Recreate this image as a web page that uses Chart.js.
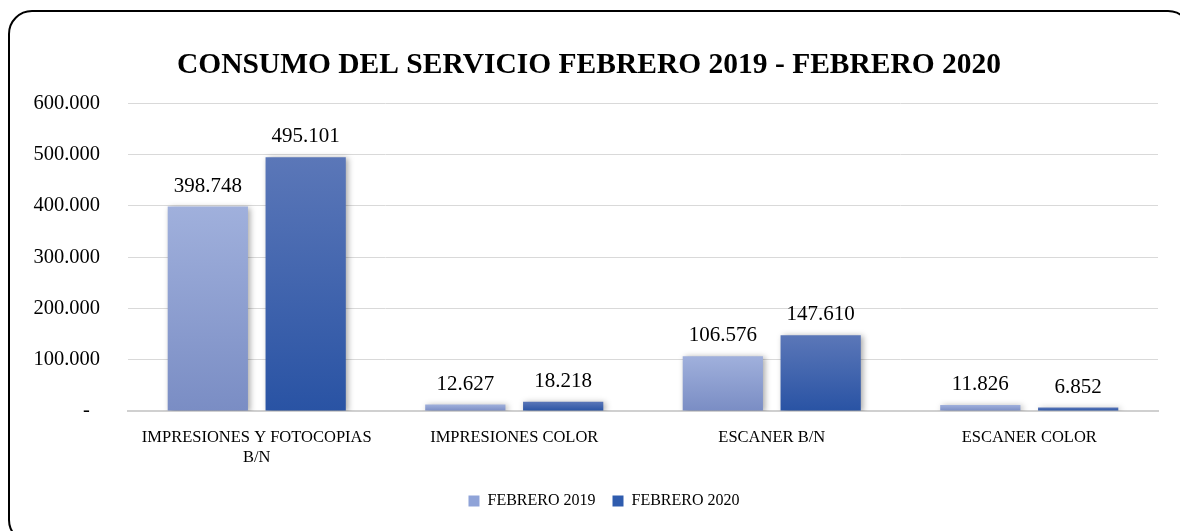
<!DOCTYPE html>
<html>
<head>
<meta charset="utf-8">
<script src="https://cdn.jsdelivr.net/npm/chart.js@4/dist/chart.umd.min.js"></script>
<style>
    html, body { margin: 0; padding: 0; background: #ffffff; overflow: hidden; }
    #frame {
        position: absolute; left: 8px; top: 10px;
        width: 1180px; height: 530px;
        border: 2px solid #000; border-radius: 24px;
    }
    #wrap { position: absolute; left: 0; top: 0; width: 1180px; height: 531px; }
</style>
</head>
<body>
<div id="frame"></div>
<div id="wrap"><canvas id="chart"></canvas></div>
<script>
// Chart data
var categories = [['IMPRESIONES Y FOTOCOPIAS', 'B/N'], 'IMPRESIONES COLOR', 'ESCANER B/N', 'ESCANER COLOR'];
var febrero2019 = [398748, 12627, 106576, 11826];
var febrero2020 = [495101, 18218, 147610, 6852];
var seriesNames = ['FEBRERO 2019', 'FEBRERO 2020'];
var yTicks = [0, 100000, 200000, 300000, 400000, 500000, 600000];

var FONT = '"Liberation Serif", "Times New Roman", serif';

// 12627 -> "12.627"
function fmt(n) {
    return String(n).replace(/\B(?=(\d{3})+(?!\d))/g, '.');
}

// vertical gradient per bar, from top of the bar to the base
function barGradient(top, bottom) {
    return function(context) {
        var chart = context.chart;
        if (!chart.chartArea || context.raw === undefined) {
            return bottom;
        }
        var y = chart.scales.y;
        var y0 = y.getPixelForValue(context.raw);
        var y1 = y.getPixelForValue(0);
        if (y1 - y0 < 1) {
            y0 = y1 - 1;
        }
        var g = chart.ctx.createLinearGradient(0, y0, 0, y1);
        g.addColorStop(0, top);
        g.addColorStop(1, bottom);
        return g;
    };
}

// soft drop shadow under the bars
var barShadow = {
    id: 'barShadow',
    beforeDatasetsDraw: function(chart) {
        var ctx = chart.ctx;
        ctx.save();
        ctx.shadowColor = 'rgba(0, 0, 0, 0.35)';
        ctx.shadowBlur = 6;
        ctx.shadowOffsetX = 2;
        ctx.shadowOffsetY = 1;
    },
    afterDatasetsDraw: function(chart) {
        chart.ctx.restore();
    }
};

// value labels above each bar
var valueLabels = {
    id: 'valueLabels',
    afterDatasetsDraw: function(chart) {
        var ctx = chart.ctx;
        ctx.save();
        ctx.font = '21px ' + FONT;
        ctx.fillStyle = '#000';
        ctx.textAlign = 'center';
        ctx.textBaseline = 'bottom';
        chart.data.datasets.forEach(function(ds, i) {
            chart.getDatasetMeta(i).data.forEach(function(bar, j) {
                ctx.fillText(fmt(ds.data[j]), bar.x, bar.y - 10);
            });
        });
        ctx.restore();
    }
};

// legend sits a little right of the canvas centre
var legendShift = {
    id: 'legendShift',
    afterLayout: function(chart) {
        if (chart.legend) {
            chart.legend.left += 15;
            chart.legend.right += 15;
        }
    }
};

var solidColors = ['#8FA3D8', '#2F5CAE'];

new Chart(document.getElementById('chart'), {
    type: 'bar',
    data: {
        labels: categories,
        datasets: [{
            label: seriesNames[0],
            data: febrero2019,
            backgroundColor: barGradient('#A0B0DC', '#7A8DC4')
        }, {
            label: seriesNames[1],
            data: febrero2020,
            backgroundColor: barGradient('#5B77B8', '#2953A4')
        }]
    },
    options: {
        responsive: true,
        maintainAspectRatio: false,
        animation: false,
        layout: {
            padding: { left: 20, right: 22, top: 48, bottom: 12 }
        },
        datasets: {
            bar: {
                categoryPercentage: 0.76,
                barPercentage: 0.82
            }
        },
        plugins: {
            title: {
                display: true,
                text: 'CONSUMO DEL SERVICIO FEBRERO 2019 - FEBRERO 2020',
                color: '#000',
                font: { family: FONT, size: 29.5, weight: 'bold' },
                padding: { top: 0, bottom: 20 }
            },
            legend: {
                position: 'bottom',
                labels: {
                    color: '#000',
                    font: { family: FONT, size: 16 },
                    boxWidth: 11,
                    boxHeight: 11,
                    padding: 17,
                    generateLabels: function(chart) {
                        return chart.data.datasets.map(function(ds, i) {
                            return {
                                text: ds.label,
                                fillStyle: solidColors[i],
                                strokeStyle: solidColors[i],
                                lineWidth: 0,
                                datasetIndex: i,
                                hidden: false
                            };
                        });
                    }
                }
            },
            tooltip: { enabled: false }
        },
        scales: {
            x: {
                afterFit: function(scale) {
                    scale.height = 65;
                },
                grid: { display: false, drawTicks: false },
                border: { color: '#d0d0d0', width: 2 },
                ticks: {
                    color: '#000',
                    font: { family: FONT, size: 16.5 },
                    padding: 17,
                    maxRotation: 0
                }
            },
            y: {
                min: 0,
                max: 600000,
                afterFit: function(scale) {
                    scale.width = 108;
                },
                afterBuildTicks: function(scale) {
                    scale.ticks = yTicks.map(function(v) { return { value: v }; });
                },
                grid: { color: '#d9d9d9', drawTicks: false },
                border: { display: false },
                ticks: {
                    color: '#000',
                    font: { family: FONT, size: 20.5 },
                    padding: 28,
                    callback: function(v) {
                        return v === 0 ? '-  ' : fmt(v);
                    }
                }
            }
        }
    },
    plugins: [barShadow, valueLabels, legendShift]
});
</script>
</body>
</html>
